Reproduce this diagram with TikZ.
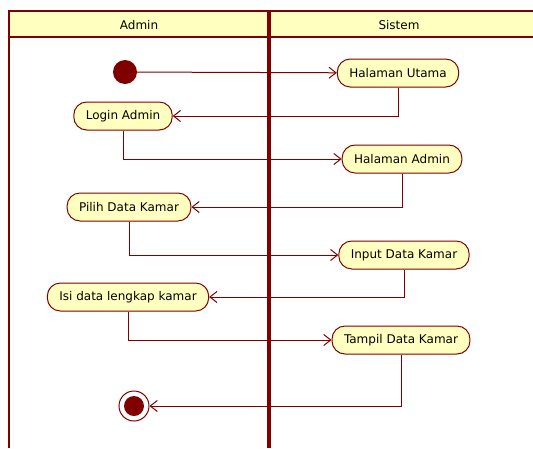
\documentclass[tikz,border=0pt]{standalone}
\usepackage{fontspec}
\setmainfont{DejaVu Sans}
\usetikzlibrary{arrows.meta}
\definecolor{lanered}{RGB}{128,0,0}
\definecolor{actyellow}{RGB}{255,255,192}

\begin{document}
\begin{tikzpicture}[x=1pt,y=-1pt,
    action/.style={draw=lanered,fill=actyellow,line width=1pt,rounded corners=13pt,minimum height=28pt,
                   inner xsep=12pt,font=\fontsize{12}{14}\selectfont},
    flow/.style={draw=lanered,line width=1pt,-{Straight Barb[length=7pt,width=11pt]}}]
				\useasboundingbox (0,0) rectangle (533,448);
				% Swimlanes
				\fill[actyellow] (9,11) rectangle (533,37);
				\draw[lanered,line width=2.5pt] (533,11) -- (9,11) -- (9,448);
				\draw[lanered,line width=2pt] (9,37) -- (533,37);
				\draw[lanered,line width=4.5pt] (269,11) -- (269,448);
				\node[font=\fontsize{12}{14}\selectfont] (laneadmin) at (139,25) {Admin};
				\node[font=\fontsize{12}{14}\selectfont] (lanesistem) at (399,25) {Sistem};
				
				% Start and end
				\node[circle,fill=lanered,minimum size=24pt,inner sep=0pt] (start) at (125,72) {};
				\node[circle,draw=lanered,fill=white,minimum size=30pt,inner sep=0pt,line width=1pt] (end) at (134,406) {};
				\fill[lanered] (end.center) circle (10pt);
				
				% Activities
				\node[action] (utama) at (398,73) {Halaman Utama};
				\node[action] (login) at (123,116) {Login Admin};
				\node[action] (hadmin) at (402,159) {Halaman Admin};
				\node[action] (pilih) at (129,207) {Pilih Data Kamar};
				\node[action] (input) at (404,255) {Input Data Kamar};
				\node[action] (isi) at (128,297) {Isi data lengkap kamar};
				\node[action] (tampil) at (401,340) {Tampil Data Kamar};
				
				% Flows
				\draw[flow] (start) -- (utama);
				\draw[flow] (utama) |- (login);
				\draw[flow] (login) |- (hadmin);
				\draw[flow] (hadmin) |- (pilih);
				\draw[flow] (pilih) |- (input);
				\draw[flow] (input) |- (isi);
				\draw[flow] (isi) |- (tampil);
				\draw[flow] (tampil) |- (end);
			\end{tikzpicture}
\end{document}
